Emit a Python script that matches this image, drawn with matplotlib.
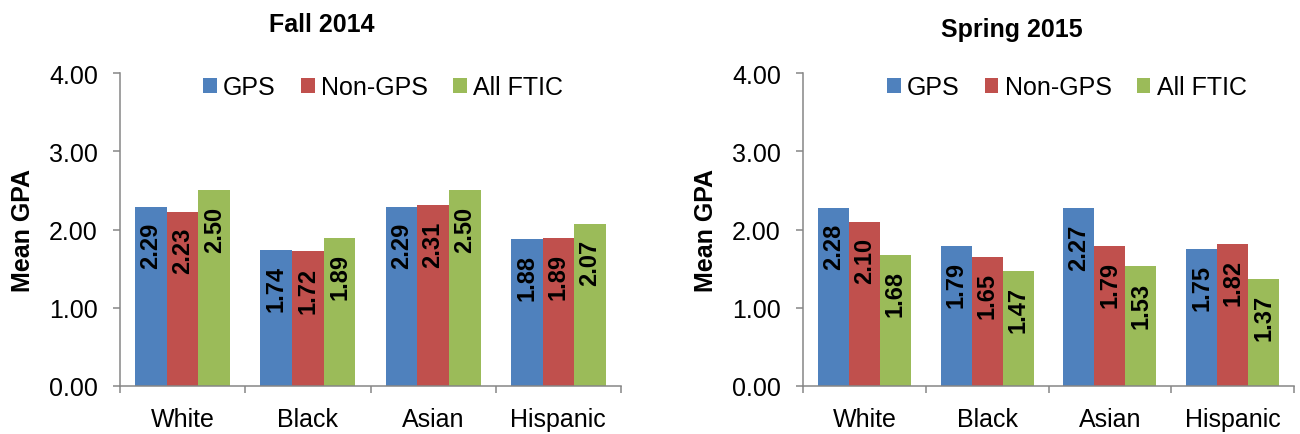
import numpy as np
import matplotlib
matplotlib.use("Agg")
from matplotlib import pyplot as plt
from matplotlib import ticker

# Data
categories = ["White", "Black", "Asian", "Hispanic"]
series_names = ["GPS", "Non-GPS", "All FTIC"]
fall_gps = [2.29, 1.74, 2.29, 1.88]
fall_non_gps = [2.23, 1.72, 2.31, 1.89]
fall_all_ftic = [2.50, 1.89, 2.50, 2.07]
spring_gps = [2.28, 1.79, 2.27, 1.75]
spring_non_gps = [2.10, 1.65, 1.79, 1.82]
spring_all_ftic = [1.68, 1.47, 1.53, 1.37]

colors = ["#4F81BD", "#C0504D", "#9BBB59"]
axis_color = "#868686"
plt.rcParams["font.family"] = ["Liberation Sans", "DejaVu Sans"]

W, H = 1300, 435
fig = plt.figure(figsize=(W / 100, H / 100), dpi=100)


def px_axes(left, right, top, bottom):
    return fig.add_axes([left / W, (H - bottom) / H, (right - left) / W, (bottom - top) / H])


def draw_panel(ax, values, title, title_x, title_y, ylabel_x, legend_x):
    x = np.arange(len(categories))
    width = 0.253
    for i, (vals, name) in enumerate(zip(values, series_names)):
        pos = x + (i - 1) * width
        ax.bar(pos, vals, width, color=colors[i], label=name, linewidth=0)
        for p, v in zip(pos, vals):
            ax.annotate("%.2f" % v, (p, v), xytext=(0, -11), textcoords="offset points",
                        rotation=90, ha="center", va="top", fontsize=17,
                        fontweight="bold", color="black")

    ax.set_xlim(-0.5, len(categories) - 0.5)
    ax.set_ylim(0, 4)
    ax.yaxis.set_major_locator(ticker.MultipleLocator(1))
    ax.yaxis.set_major_formatter(ticker.FormatStrFormatter("%.2f"))
    ax.set_xticks(x)
    ax.set_xticklabels(categories)
    ax.set_xticks(np.arange(-0.5, len(categories)), minor=True)
    ax.tick_params(axis="x", which="major", length=0, pad=15, labelsize=18)
    ax.tick_params(axis="x", which="minor", length=5, width=1.1, color=axis_color, direction="out")
    ax.tick_params(axis="y", length=5, width=1.1, color=axis_color, pad=11, labelsize=18)
    for side in ["top", "right"]:
        ax.spines[side].set_visible(False)
    for side in ["left", "bottom"]:
        ax.spines[side].set_color(axis_color)
        ax.spines[side].set_linewidth(1.1)

    ax.legend(loc="center left", bbox_to_anchor=(legend_x, 1 - 14 / 313), ncol=3,
              frameon=False, fontsize=18, handlelength=0.55, handleheight=0.55,
              handletextpad=0.25, columnspacing=1.0, borderpad=0, borderaxespad=0)

    fig.text(title_x / W, (H - title_y) / H, title, ha="center", va="baseline",
             fontsize=18, fontweight="bold")
    fig.text(ylabel_x / W, (H - 230) / H, "Mean GPA", rotation=90, ha="center",
             va="center", fontsize=18, fontweight="bold")


ax1 = px_axes(120, 621, 74, 387)
draw_panel(ax1, [fall_gps, fall_non_gps, fall_all_ftic], "Fall 2014", 322, 32, 23, 0.166)

ax2 = px_axes(803, 1294, 74, 387)
draw_panel(ax2, [spring_gps, spring_non_gps, spring_all_ftic], "Spring 2015", 1012, 37, 706, 0.171)

fig.savefig("out.png", dpi=100)
